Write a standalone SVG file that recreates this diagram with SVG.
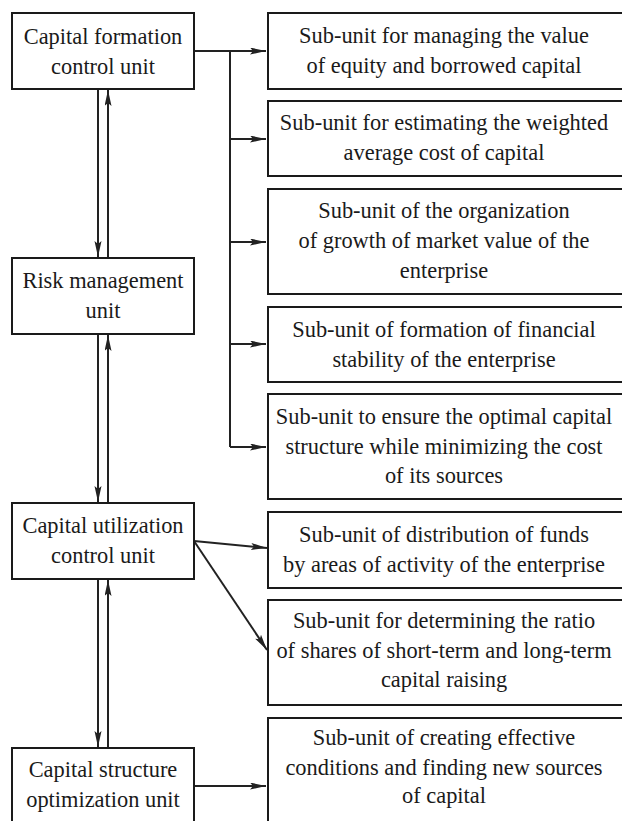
<svg xmlns="http://www.w3.org/2000/svg" width="622" height="821" viewBox="0 0 622 821">
<style>
.box{fill:#fff;stroke:#1a1a1a;stroke-width:2}
.t{font-family:"Liberation Serif","Times New Roman",serif;font-size:22.4px;fill:#1a1a1a;text-anchor:middle}
.c{fill:none;stroke:#222;stroke-width:2}
</style>
<defs>
<marker id="ah" markerUnits="userSpaceOnUse" markerWidth="18" markerHeight="8" refX="16" refY="3.5" orient="auto">
<path d="M0,0 L16,3.5 L0,7 L3,3.5 z" fill="#222"/>
</marker>
</defs>
<rect width="622" height="821" fill="#fff"/>
<g id="connectors">
<path class="c" d="M194,51 H266" marker-end="url(#ah)"/>
<path class="c" d="M230,51 V447"/>
<path class="c" d="M230,139 H266" marker-end="url(#ah)"/>
<path class="c" d="M230,242 H266" marker-end="url(#ah)"/>
<path class="c" d="M230,344 H266" marker-end="url(#ah)"/>
<path class="c" d="M230,447 H266" marker-end="url(#ah)"/>
<path class="c" d="M98,89 V257" marker-end="url(#ah)"/>
<path class="c" d="M108,258 V90" marker-end="url(#ah)"/>
<path class="c" d="M98,334 V502" marker-end="url(#ah)"/>
<path class="c" d="M108,503 V335" marker-end="url(#ah)"/>
<path class="c" d="M98,579 V747" marker-end="url(#ah)"/>
<path class="c" d="M108,748 V580" marker-end="url(#ah)"/>
<path class="c" d="M194,541 L267,548" marker-end="url(#ah)"/>
<path class="c" d="M194,541 L267,650" marker-end="url(#ah)"/>
<path class="c" d="M194,786 H266" marker-end="url(#ah)"/>
</g>
<g id="n1"><rect class="box" x="12" y="13" width="182" height="76"/>
<text class="t" x="103" y="44">Capital formation</text><text class="t" x="103" y="74">control unit</text></g>
<g id="n2"><rect class="box" x="12" y="258" width="182" height="76"/>
<text class="t" x="103" y="288">Risk management</text><text class="t" x="103" y="318">unit</text></g>
<g id="n3"><rect class="box" x="12" y="503" width="182" height="76"/>
<text class="t" x="103" y="533">Capital utilization</text><text class="t" x="103" y="563">control unit</text></g>
<g id="n4"><rect class="box" x="12" y="748" width="182" height="80"/>
<text class="t" x="103" y="777">Capital structure</text><text class="t" x="103" y="807">optimization unit</text></g>
<g id="r1"><rect class="box" x="268" y="13" width="356" height="76"/>
<text class="t" x="444" y="43">Sub-unit for managing the value</text><text class="t" x="444" y="73">of equity and borrowed capital</text></g>
<g id="r2"><rect class="box" x="268" y="101" width="356" height="75"/>
<text class="t" x="444" y="130">Sub-unit for estimating the weighted</text><text class="t" x="444" y="160">average cost of capital</text></g>
<g id="r3"><rect class="box" x="268" y="189" width="356" height="105"/>
<text class="t" x="444" y="218">Sub-unit of the organization</text><text class="t" x="444" y="248">of growth of market value of the</text><text class="t" x="444" y="278">enterprise</text></g>
<g id="r4"><rect class="box" x="268" y="307" width="356" height="75"/>
<text class="t" x="444" y="337">Sub-unit of formation of financial</text><text class="t" x="444" y="367">stability of the enterprise</text></g>
<g id="r5"><rect class="box" x="268" y="394" width="356" height="105"/>
<text class="t" x="444" y="424">Sub-unit to ensure the optimal capital</text><text class="t" x="444" y="454">structure while minimizing the cost</text><text class="t" x="444" y="483">of its sources</text></g>
<g id="r6"><rect class="box" x="268" y="512" width="356" height="76"/>
<text class="t" x="444" y="542">Sub-unit of distribution of funds</text><text class="t" x="444" y="572">by areas of activity of the enterprise</text></g>
<g id="r7"><rect class="box" x="268" y="600" width="356" height="105"/>
<text class="t" x="444" y="628">Sub-unit for determining the ratio</text><text class="t" x="444" y="658">of shares of short-term and long-term</text><text class="t" x="444" y="687">capital raising</text></g>
<g id="r8"><rect class="box" x="268" y="718" width="356" height="110"/>
<text class="t" x="444" y="745">Sub-unit of creating effective</text><text class="t" x="444" y="775">conditions and finding new sources</text><text class="t" x="444" y="803">of capital</text></g>
</svg>
